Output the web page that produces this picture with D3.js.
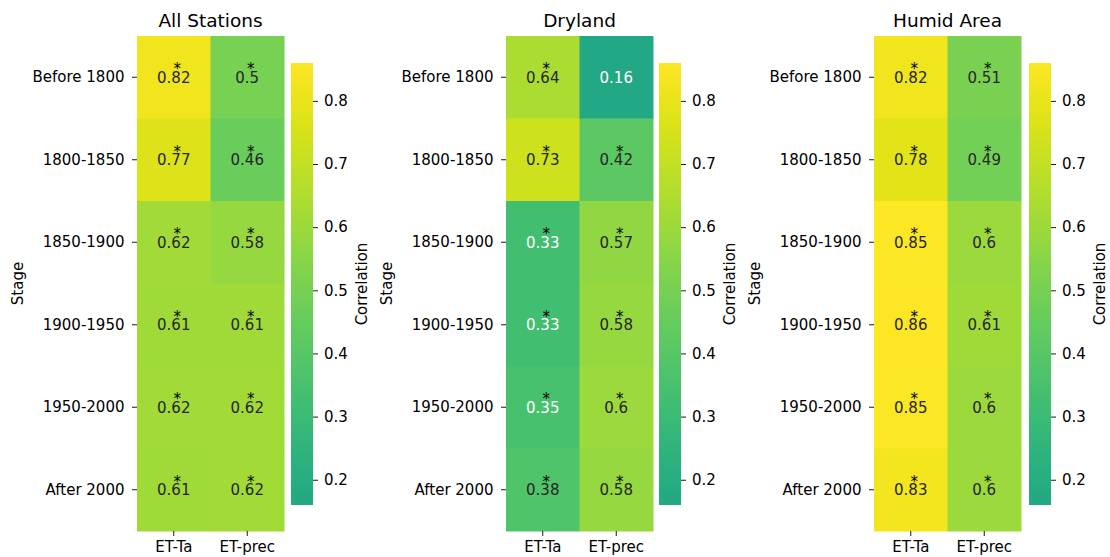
<!DOCTYPE html>
<html>
<head>
<meta charset="utf-8">
<script src="https://cdn.jsdelivr.net/npm/d3@7"></script>
<style>
  body { margin: 0; background: #fff; }
  text { font-family: "DejaVu Sans", sans-serif; }
</style>
</head>
<body>
<div id="chart"></div>
<script>
// data
const stages = ["Before 1800", "1800-1850", "1850-1900", "1900-1950", "1950-2000", "After 2000"];
const variables = ["ET-Ta", "ET-prec"];
const panelTitles = ["All Stations", "Dryland", "Humid Area"];

const allTa = [0.82, 0.77, 0.62, 0.61, 0.62, 0.61];
const allPrec = [0.50, 0.46, 0.58, 0.61, 0.62, 0.62];
const dryTa = [0.64, 0.73, 0.33, 0.33, 0.35, 0.38];
const dryPrec = [0.16, 0.42, 0.57, 0.58, 0.60, 0.58];
const humidTa = [0.82, 0.78, 0.85, 0.86, 0.85, 0.83];
const humidPrec = [0.51, 0.49, 0.60, 0.61, 0.60, 0.60];

// significance flags (true = marked with *)
const allSig = [[true, true, true, true, true, true], [true, true, true, true, true, true]];
const drySig = [[true, true, true, true, true, true], [false, true, true, true, true, true]];
const humidSig = [[true, true, true, true, true, true], [true, true, true, true, true, true]];

const colorTicks = [0.2, 0.3, 0.4, 0.5, 0.6, 0.7, 0.8];
const vmin = 0.16, vmax = 0.86;

const panels = [
  { title: panelTitles[0], cols: [allTa, allPrec], sig: allSig },
  { title: panelTitles[1], cols: [dryTa, dryPrec], sig: drySig },
  { title: panelTitles[2], cols: [humidTa, humidPrec], sig: humidSig }
];

const W = 1110, H = 557;
const heatLeft = [137, 506, 874];
const cbLeft = [291, 659, 1029];
const heatW = 147, heatTop = 36, heatBottom = 531;
const cbW = 22, cbTop = 63, cbBottom = 505;
const tickFont = "15px", valFont = "15px", titleFont = "18.5px";

const svg = d3.select("#chart").append("svg")
  .attr("width", W)
  .attr("height", H);

// truncated viridis (teal -> yellow)
const color = d3.scaleSequential(t => d3.interpolateViridis(0.6 + 0.4 * t))
  .domain([vmin, vmax]);

function luminance(c) {
  const rgb = d3.rgb(c);
  const f = v => { v /= 255; return v <= 0.03928 ? v / 12.92 : Math.pow((v + 0.055) / 1.055, 2.4); };
  return 0.2126 * f(rgb.r) + 0.7152 * f(rgb.g) + 0.0722 * f(rgb.b);
}

const defs = svg.append("defs");

function styleAxis(a) {
  a.select(".domain").remove();
  a.selectAll("line").attr("stroke", "#000").attr("stroke-width", 0.9);
  a.selectAll("text").style("font-size", tickFont).attr("fill", "#000")
    .style("font-family", "DejaVu Sans, sans-serif");
}

panels.forEach((p, i) => {
  const g = svg.append("g");
  const x = d3.scaleBand().domain(variables).range([heatLeft[i], heatLeft[i] + heatW]);
  const y = d3.scaleBand().domain(stages).range([heatTop, heatBottom]);

  const cells = [];
  variables.forEach((v, ci) => {
    stages.forEach((s, ri) => {
      cells.push({ v, s, val: p.cols[ci][ri], sig: p.sig[ci][ri] });
    });
  });

  g.selectAll("rect.cell")
    .data(cells)
    .join("rect")
    .attr("class", "cell")
    .attr("x", d => x(d.v))
    .attr("y", d => y(d.s))
    .attr("width", x.bandwidth() + 0.5)
    .attr("height", y.bandwidth() + 0.5)
    .attr("fill", d => color(d.val));

  g.selectAll("text.val")
    .data(cells)
    .join("text")
    .attr("class", "val")
    .attr("x", d => x(d.v) + x.bandwidth() / 2)
    .attr("y", d => y(d.s) + y.bandwidth() / 2)
    .attr("dy", "0.36em")
    .attr("text-anchor", "middle")
    .style("font-size", valFont)
    .attr("fill", d => luminance(color(d.val)) < 0.408 ? "#ffffff" : "#262626")
    .text(d => String(+d.val.toFixed(2)));

  g.selectAll("text.star")
    .data(cells.filter(d => d.sig))
    .join("text")
    .attr("class", "star")
    .attr("x", d => x(d.v) + x.bandwidth() / 2 + 3.5)
    .attr("y", d => y(d.s) + y.bandwidth() / 2 - 3)
    .attr("text-anchor", "middle")
    .style("font-size", valFont)
    .attr("fill", "#000")
    .text("*");

  // axes
  const yAxis = g.append("g")
    .attr("transform", `translate(${heatLeft[i]},0)`)
    .call(d3.axisLeft(y).tickSize(5).tickPadding(7.5));
  const xAxis = g.append("g")
    .attr("transform", `translate(0,${heatBottom})`)
    .call(d3.axisBottom(x).tickSize(5).tickPadding(5));
  styleAxis(yAxis);
  styleAxis(xAxis);

  g.append("text")
    .attr("x", heatLeft[i] + heatW / 2)
    .attr("y", 27)
    .attr("text-anchor", "middle")
    .style("font-size", titleFont)
    .attr("fill", "#000")
    .text(p.title);

  g.append("text")
    .attr("transform", `translate(${heatLeft[i] - 114},${(heatTop + heatBottom) / 2}) rotate(-90)`)
    .attr("text-anchor", "middle")
    .style("font-size", tickFont)
    .attr("fill", "#000")
    .text("Stage");

  // colorbar
  const cy = d3.scaleLinear().domain([vmin, vmax]).range([cbBottom, cbTop]);
  const gradId = "grad" + i;
  const grad = defs.append("linearGradient")
    .attr("id", gradId)
    .attr("x1", 0).attr("y1", 1).attr("x2", 0).attr("y2", 0);
  d3.range(0, 1.0001, 0.05).forEach(t => {
    grad.append("stop")
      .attr("offset", t)
      .attr("stop-color", color(vmin + t * (vmax - vmin)));
  });
  g.append("rect")
    .attr("x", cbLeft[i])
    .attr("y", cbTop)
    .attr("width", cbW)
    .attr("height", cbBottom - cbTop)
    .attr("fill", `url(#${gradId})`);

  const cAxis = g.append("g")
    .attr("transform", `translate(${cbLeft[i] + cbW},0)`)
    .call(d3.axisRight(cy).tickValues(colorTicks).tickFormat(d3.format(".1f")).tickSize(5).tickPadding(6));
  styleAxis(cAxis);

  g.append("text")
    .attr("transform", `translate(${cbLeft[i] + 76},${(cbTop + cbBottom) / 2}) rotate(-90)`)
    .attr("text-anchor", "middle")
    .style("font-size", tickFont)
    .attr("fill", "#000")
    .text("Correlation");
});
</script>
</body>
</html>
